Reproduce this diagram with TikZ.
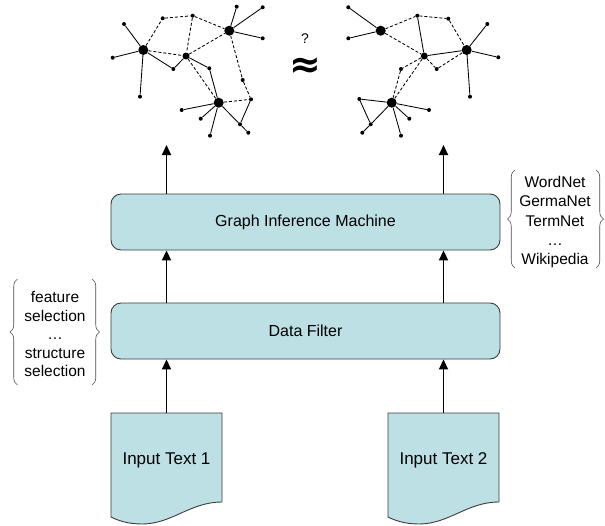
\documentclass[tikz,border=0pt]{standalone}
\usepackage{fontspec}
\setmainfont{Liberation Sans}
\newfontfamily\symfont{DejaVu Sans}
\usetikzlibrary{arrows.meta,decorations.pathreplacing}
\definecolor{boxfill}{HTML}{BDE0E5}
\definecolor{boxline}{HTML}{3C3C3C}
\tikzset{
  procbox/.style={draw=boxline, line width=0.9pt, fill=boxfill, rounded corners=10pt,
    minimum width=389pt, minimum height=56pt, inner sep=0pt,
    font=\fontsize{16}{19}\selectfont},
  docshape/.style={draw=boxline, line width=0.9pt, fill=boxfill},
  doclabel/.style={font=\fontsize{17}{20}\selectfont},
  flow/.style={line width=1.8pt, -{Triangle[width=9pt,length=10pt]}},
  bracetext/.style={align=center, font=\fontsize{15.5}{18.5}\selectfont, inner sep=0pt},
  curly/.style={draw=black!70, line width=0.6pt, decorate,
    decoration={brace, amplitude=7.5pt}},
  hub/.style={circle, fill=black, inner sep=0pt, minimum size=10pt},
  midhub/.style={circle, fill=black, inner sep=0pt, minimum size=7pt},
  leaf/.style={circle, fill=black, inner sep=0pt, minimum size=4pt},
  tie/.style={line width=0.85pt},
  weak/.style={line width=0.85pt, dash pattern=on 3pt off 2pt},
}
\begin{document}
\begin{tikzpicture}[x=1pt,y=-1pt]
\useasboundingbox (0,0) rectangle (605,525);

% ---- processing stages ----
\node[procbox] (gim) at (305.5,222) {Graph Inference Machine};
\node[procbox] (df)  at (305.5,331) {Data Filter};

% ---- input documents ----
\path[docshape] (111,413) -- (222,413) -- (222,502)
  .. controls (190,502) and (172,524) .. (142,524)
  .. controls (127,524) and (117,520) .. (111,517) -- cycle;
\path[docshape] (388,413) -- (499,413) -- (499,502)
  .. controls (467,502) and (449,524) .. (419,524)
  .. controls (404,524) and (394,520) .. (388,517) -- cycle;
\node[doclabel] (in1) at (166.5,460) {Input Text 1};
\node[doclabel] (in2) at (443.5,460) {Input Text 2};
\coordinate (d1top) at (166.5,413);
\coordinate (d2top) at (443.5,413);
\coordinate (g1) at (166.5,145);
\coordinate (g2) at (443.5,145);

% ---- flow arrows ----
\draw[flow] (d1top) -- (df.south -| d1top);
\draw[flow] (d2top) -- (df.south -| d2top);
\draw[flow] (df.north -| d1top) -- (gim.south -| d1top);
\draw[flow] (df.north -| d2top) -- (gim.south -| d2top);
\draw[flow] (gim.north -| d1top) -- (g1);
\draw[flow] (gim.north -| d2top) -- (g2);

% ---- side notes ----
\node[bracetext] (filt) at (55,334) {feature\\selection\\…\\structure\\selection};
\coordinate (lb1) at (17.5,385);
\coordinate (lb2) at (17.5,279);
\coordinate (lb3) at (92,279);
\coordinate (lb4) at (92,385);
\draw[curly] (lb1) -- (lb2);
\draw[curly] (lb3) -- (lb4);

\node[bracetext, font=\fontsize{15.5}{19.2}\selectfont] (res) at (555,222) {WordNet\\GermaNet\\TermNet\\…\\Wikipedia};
\coordinate (rb1) at (515,268);
\coordinate (rb2) at (515,170);
\coordinate (rb3) at (596,170);
\coordinate (rb4) at (596,268);
\draw[curly] (rb1) -- (rb2);
\draw[curly] (rb3) -- (rb4);

% ---- left graph ----
\node[hub] (A) at (143.3,50) {};
\node[hub] (B) at (229.3,30.7) {};
\node[hub] (C) at (218.7,102.7) {};
\node[midhub] (M) at (186,56) {};
\foreach \n/\x/\y in {l1/124/24, l2/112.7/57.7, l3/140/96.7, l4/162.7/18.3,
  l5/192.7/15.7, l6/173.3/69, l7/236.7/6.7, l8/262.7/7.3, l9/262.7/38.3,
  l10/209.3/68.3, l11/242.7/80, l12/251/99.3, l13/181.7/110, l14/200.7/118.7,
  l15/210/135.7, l16/240/124.3, l17/248.3/132.7}
  \node[leaf] (\n) at (\x,\y) {};
\foreach \a/\b in {A/l1, A/l2, A/l3, A/l6, l6/M, M/l10, l10/C, B/l7, B/l8, B/l9,
  C/l13, C/l14, C/l15, C/l16, l16/l12, l16/l17}
  \draw[tie] (\a) -- (\b);
\foreach \a/\b in {A/l4, l4/l5, l5/B, l5/M, A/M, M/B, M/C, B/l11, l11/l12, C/l12}
  \draw[weak] (\a) -- (\b);

% ---- right graph ----
\node[hub] (D) at (380.7,30.7) {};
\node[hub] (E) at (466.7,50) {};
\node[hub] (F) at (391.7,102.7) {};
\node[midhub] (N) at (424.3,56) {};
\foreach \n/\x/\y in {r1/348.3/7.3, r2/348.3/38.3, r3/417.3/15.7, r4/448.3/18.7,
  r5/487.3/24, r6/498.3/57.3, r7/470/96.7, r8/436.7/69, r9/401/69,
  r10/359.3/99, r11/370.7/124.3, r12/362.3/132.7, r13/401/135.7,
  r14/409.3/118.7, r15/429/110}
  \node[leaf] (\n) at (\x,\y) {};
\foreach \a/\b in {D/r1, D/r2, N/r3, N/E, E/r5, E/r6, E/r7, F/r10, r10/r11,
  F/r11, r11/r12, F/r13, F/r14, F/r15}
  \draw[tie] (\a) -- (\b);
\foreach \a/\b in {D/r3, r3/r4, r4/E, D/N, N/r8, r8/E, N/r9, r9/F, N/F}
  \draw[weak] (\a) -- (\b);

% ---- comparison sign ----
\node[font=\fontsize{14}{14}\selectfont, inner sep=0pt] (qmark) at (305,38.5) {?};
\node[font=\symfont\bfseries\fontsize{38}{38}\selectfont, inner sep=0pt,
  text height=20pt, text depth=0pt, anchor=base] (cmp) at (305,77) {≈};
\end{tikzpicture}
\end{document}
